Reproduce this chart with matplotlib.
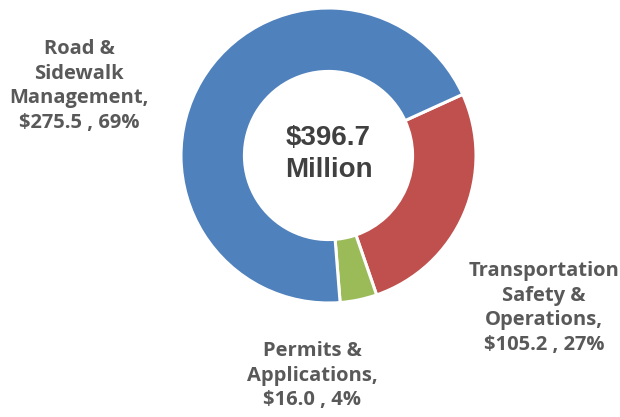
import matplotlib.pyplot as plt

# data
categories = ['Transportation\nSafety &\nOperations,', 'Permits &\nApplications,', 'Road &\nSidewalk\nManagement,']
values = [105.2, 16.0, 275.5]
percents = [27, 4, 69]
colors = ['#C0504D', '#9BBB59', '#4F81BD']
total_label = '$396.7\nMillion'

W, H = 620, 417
fig = plt.figure(figsize=(W / 100, H / 100), dpi=100)

# donut placed in pixel terms: centre (328.5, 155.5), radius 147.5
cx, cy, r = 328.5, 155.5, 147.5
ax = fig.add_axes([(cx - r) / W, (H - cy - r) / H, 2 * r / W, 2 * r / H])
ax.pie(values, colors=colors, startangle=24.5, counterclock=False, radius=1,
       wedgeprops=dict(width=0.43, edgecolor='white', linewidth=2.2))
ax.set_xlim(-1, 1)
ax.set_ylim(-1, 1)
ax.set_aspect('equal')
ax.axis('off')

ax.text(0, 0.01, total_label, ha='center', va='center', fontsize=20,
        fontweight='bold', color='#404040', family='Liberation Sans', linespacing=1.3)

lab_font = dict(fontsize=14.5, fontweight='bold', color='#595959', family='Open Sans',
                ha='center', va='center', linespacing=1.3)

def px(x, y):
    return x / W, 1 - y / H

label_pos = [(544, 308), (312, 376), (79, 86)]
for cat, v, p, (x, y) in zip(categories, values, percents, label_pos):
    fig.text(*px(x, y), '%s\n$%.1f , %d%%' % (cat, v, p), **lab_font)

fig.savefig('out.png', dpi=100)
